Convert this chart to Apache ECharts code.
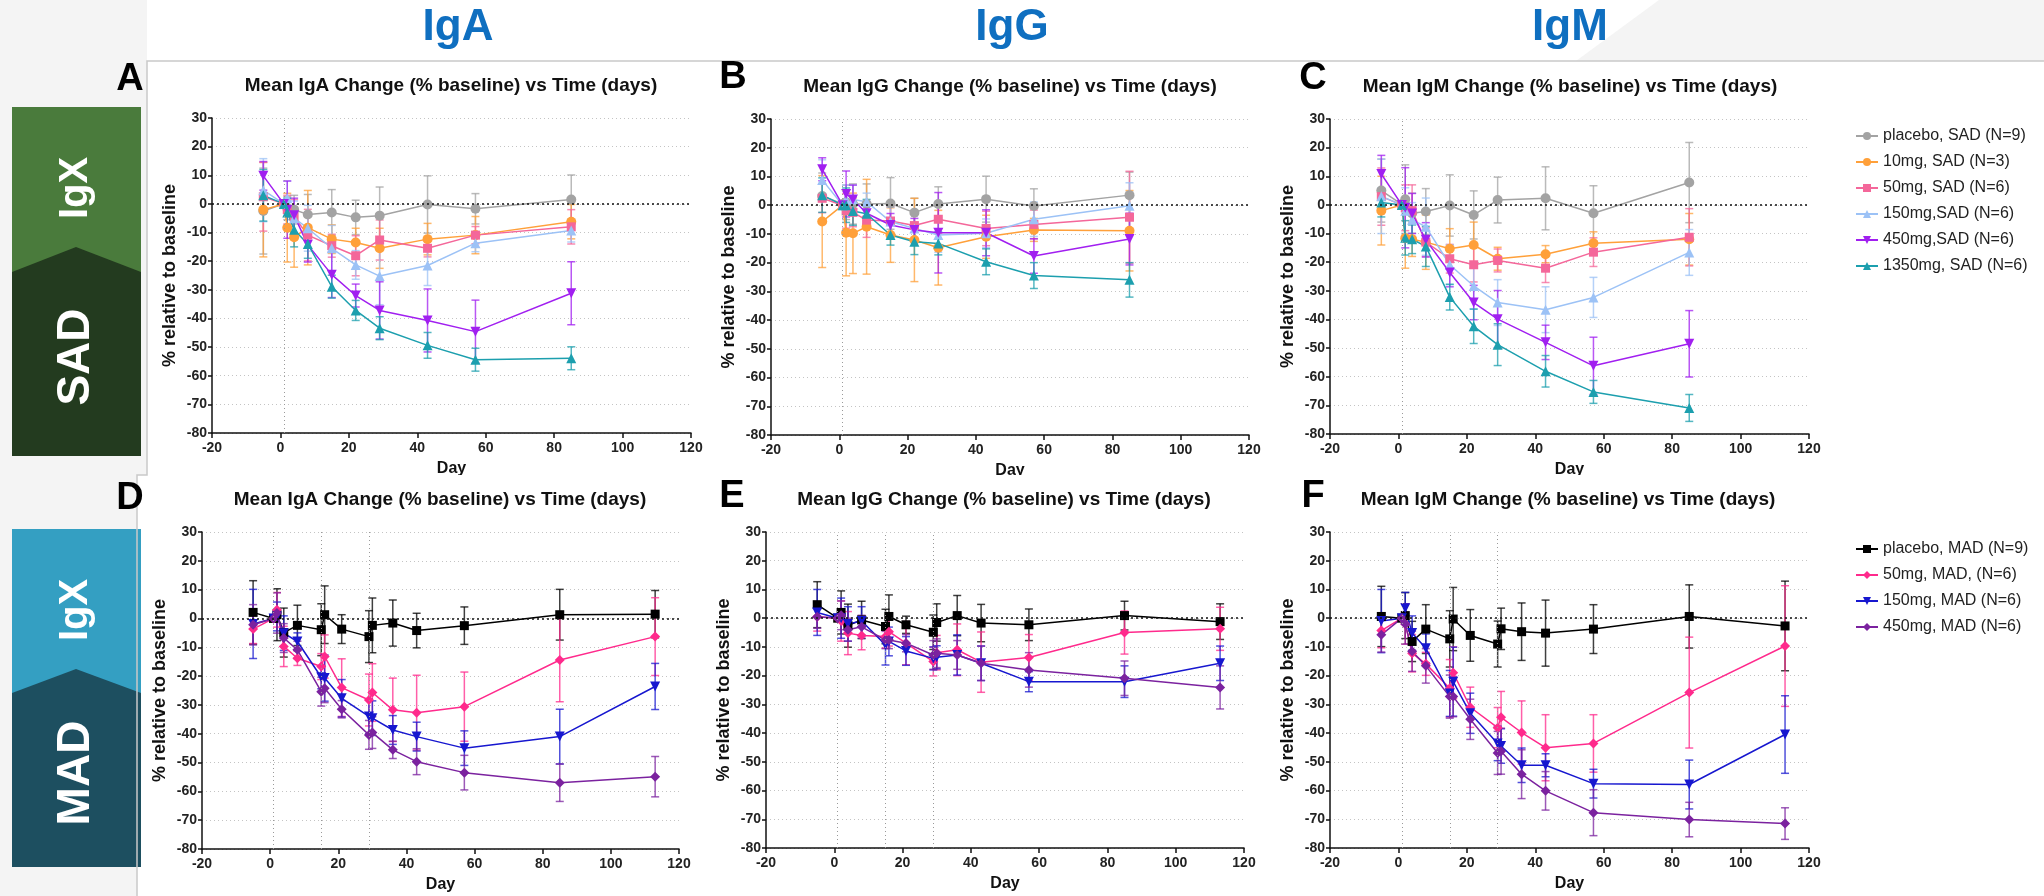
<!DOCTYPE html>
<html>
<head>
<meta charset="utf-8">
<script src="https://cdn.jsdelivr.net/npm/echarts/dist/echarts.min.js"></script>
<style>
  html, body { margin: 0; padding: 0; background: #fff; }
  #chart { width: 2044px; height: 896px; }
</style>
</head>
<body>
<div id="chart"></div>
<script>
// sampling days
const sadDays = [-5, 1, 2, 4, 8, 15, 22, 29, 43, 57, 85];
const madDays = [-5, 1, 2, 4, 8, 15, 16, 21, 29, 30, 36, 43, 57, 85, 113];

const sadGroups = ['placebo, SAD (N=9)', '10mg, SAD (N=3)', '50mg, SAD (N=6)', '150mg,SAD (N=6)', '450mg,SAD (N=6)', '1350mg, SAD (N=6)'];
const madGroups = ['placebo, MAD (N=9)', '50mg, MAD, (N=6)', '150mg, MAD (N=6)', '450mg, MAD (N=6)'];

const yTicks = { min: -80, max: 30, step: 10 };
const xTicks = { min: -20, max: 120, step: 20 };

// A - IgA SAD (mean % change, one row per group)
const igaSadMean = [
  [-2.5, 0, -1.5, -2, -3.7, -3, -4.7, -4.1, -0.2, -1.7, 1.5],
  [-2, 0, -8.3, -11.6, -8.3, -12.3, -13.5, -15.5, -12.3, -10.9, -6.2],
  [2.5, 0, -2, -4.5, -10.9, -14.6, -18.1, -12.6, -15.5, -10.9, -8],
  [4.8, 0, 2, -5, -8.5, -15.5, -21.3, -25.2, -21.5, -13.7, -9.3],
  [9.8, 0, -2, -4, -14.3, -24.7, -32, -37.2, -40.7, -44.6, -31.2],
  [3, 0, -3, -9, -14, -28.9, -37.2, -43.4, -49.4, -54.4, -53.9]
];
const igaSadErr = [
  [15, 0, 4, 5, 7, 8, 6, 10, 10, 5.3, 8.6],
  [16.5, 0, 12, 10.5, 13, 5, 5, 7, 5.5, 6.5, 6],
  [12, 0, 5, 6, 9, 4, 7, 7, 3, 3, 6],
  [11, 0, 6, 6, 8, 8, 5, 10, 7, 3, 4],
  [5, 0, 10, 6, 6, 8, 4, 10, 11, 11, 11],
  [9, 0, 5, 6, 5, 4, 3.5, 4, 4.5, 4, 4]
];

// B - IgG SAD
const iggSadMean = [
  [3.2, 0.4, 1, 0.4, 0.4, 0.6, -2.6, 0.4, 2.1, -0.3, 3.5],
  [-5.7, 0, -9.6, -9.8, -7.5, -10.4, -12.1, -14.8, -11, -8.6, -8.9],
  [2.4, 0, -2, -2.5, -5.2, -5.5, -7.1, -4.9, -8.1, -6.7, -4.2],
  [8.8, 0, 2, 2, 1.2, -5.7, -8.1, -10.4, -9.8, -4.9, -0.2],
  [12.5, 0, 3.9, 2, -2.8, -6.9, -8.6, -9.6, -9.6, -17.7, -11.8],
  [3.5, 0, 0, -2, -3, -10.4, -12.7, -13.3, -19.7, -24.5, -26]
];
const iggSadErr = [
  [8, 0, 6, 7, 7, 9, 5, 6, 8, 6, 8],
  [16, 0, 15, 14, 16.5, 9.5, 14.5, 13, 7.5, 4, 14],
  [5, 0, 6, 5, 6, 5, 5, 5, 6, 5, 16],
  [7, 0, 5, 5, 3, 5, 5, 6, 5, 6, 8],
  [4, 0, 8, 5, 4, 4, 4, 14, 8, 6, 9],
  [6, 0, 6, 5, 5, 3.5, 4.5, 4, 4.5, 4.5, 6]
];

// C - IgM SAD
const igmSadMean = [
  [5, 0.2, 2, -2.9, -2.3, -0.2, -3.5, 1.7, 2.3, -2.9, 7.8],
  [-2, 0, -11.6, -12, -13, -15.3, -14, -18.8, -17.2, -13.4, -12],
  [2.9, 0, -1, -2, -13, -18.8, -20.9, -19.4, -22.1, -16.5, -11.3],
  [3, 0, -2, -5.2, -7.6, -20.9, -28.3, -34.1, -36.6, -32.3, -16.6],
  [10.8, 0, -1, -3, -12.2, -23.6, -34.1, -39.9, -48, -56.2, -48.5],
  [0.8, 0, -11.5, -12, -14.5, -32.2, -42.4, -48.8, -58.1, -65.3, -70.9]
];
const igmSadErr = [
  [11, 0, 12, 7, 8, 10.7, 8.4, 8, 11, 9.6, 14],
  [12, 0, 10.5, 6, 9.5, 7, 8, 4, 3, 4, 9],
  [10, 0, 8, 9, 5, 5, 6, 4, 5, 5, 10],
  [13, 0, 8, 6, 10, 7, 8, 8, 8, 7, 8],
  [6.5, 0, 14, 7, 6, 5, 6, 10, 6, 10, 11.6],
  [5, 0, 6, 5, 7, 4.5, 6, 7.3, 5.5, 4, 4.7]
];

// D - IgA MAD
const igaMadMean = [
  [2.1, 0, 1.3, -4.9, -2.4, -3.9, 1.3, -3.7, -6.3, -2.4, -1.6, -4.2, -2.5, 1.3, 1.5],
  [-3.7, 0, 3, -9.7, -13.8, -16.7, -13.2, -24, -28.3, -25.7, -31.7, -32.7, -30.6, -14.4, -6.3],
  [-1.9, 0, 0.7, -5.1, -8, -20.4, -20.7, -27.7, -34, -34.6, -38.7, -41, -45, -41, -23.6],
  [-2.2, 0, 1.9, -6.8, -10.9, -25.4, -24.2, -31.5, -40.4, -39.6, -45.6, -49.7, -53.5, -57, -54.9]
];
const igaMadErr = [
  [11, 0, 9, 8.5, 7, 9, 10, 5, 9, 9.5, 8, 6, 6.5, 8.8, 8.2],
  [5, 0, 6, 7, 2.5, 4.5, 7.5, 10, 9, 10, 11, 13, 12, 14.5, 13.5],
  [12, 0, 5, 6, 3, 4, 8, 6.5, 6, 6, 5, 5, 6, 9.5, 8],
  [7, 0, 7, 5, 3, 5, 5, 3, 5, 5.5, 3, 4.5, 6, 6.5, 7]
];

// E - IgG MAD
const iggMadMean = [
  [4.7, 0, 2, -2.6, -0.6, -2.9, 0.6, -2.3, -4.9, -1.5, 0.9, -1.7, -2.3, 0.9, -1.2],
  [0.5, 0, -1, -5.2, -6, -6.4, -4.7, -8.7, -15.1, -12, -11, -15.3, -13.7, -5, -3.7],
  [2, 0, 0, -2, -1, -9.3, -8.1, -11.4, -14, -13.6, -12.8, -15.7, -22.1, -22.1, -15.7],
  [0.5, 0, 1, -4, -3, -7.6, -7.6, -8.7, -12.8, -12.2, -12.8, -15.7, -18, -20.9, -24.1]
];
const iggMadErr = [
  [8, 0, 7.5, 7.5, 6.5, 6, 7.5, 3, 6, 6.5, 7, 6.5, 5.5, 5, 6.2],
  [5, 0, 7, 7.5, 5, 4, 5, 7.5, 5, 6, 9, 10.5, 8, 7.5, 7.5],
  [8, 0, 7, 6, 5, 7, 5, 5, 4, 4, 7, 6, 3.5, 5.5, 6],
  [4, 0, 5, 4, 4, 3, 3, 3, 5, 5, 5, 6, 6, 6, 7.5]
];

// F - IgM MAD
const igmMadMean = [
  [0.6, 0, 0.9, -8.1, -3.8, -7.2, -0.3, -6, -9, -3.7, -4.7, -5.2, -3.8, 0.6, -2.7],
  [-4.3, 0, -2, -12.2, -15.9, -24.4, -19, -31, -38.1, -34.5, -39.8, -45.1, -43.6, -25.9, -9.7],
  [-1, 0, 3.5, -5.2, -10.5, -26.2, -22.1, -33.1, -43.6, -44.5, -51.2, -51.2, -57.6, -57.9, -40.5],
  [-5.8, 0, -2, -11.5, -16.6, -27.3, -27.3, -35.2, -46.9, -46.3, -54.3, -60.1, -67.7, -70.1, -71.5]
];
const igmMadErr = [
  [10.5, 0, 8, 7, 8.5, 9.8, 11, 9, 8, 7.2, 10, 11.5, 8.5, 11, 15.6],
  [6, 0, 7, 6.5, 4, 10, 9, 7, 7, 9, 11, 11.5, 10, 19.3, 21],
  [11, 0, 5.5, 6, 5, 8, 12, 7, 6, 6, 6, 4, 5, 8.5, 13.5],
  [6, 0, 7, 7, 6, 7.5, 7, 7, 7.5, 8, 8.5, 6.7, 8, 6, 5.5]
];

const sadDoseDays = [1];
const madDoseDays = [1, 15, 29];

// styles
const sadColors = ['#a3a3a3', '#ffa03a', '#f4679a', '#9cc2f6', '#a11ff0', '#1c9fae'];
const sadSymbols = ['circle', 'circle', 'rect', 'triangle', 'triangle', 'triangle'];
const sadRotate = [0, 0, 0, 0, 180, 0];
const madColors = ['#000000', '#ff2a8c', '#1717cf', '#7b229f'];
const madSymbols = ['rect', 'diamond', 'triangle', 'diamond'];
const madRotate = [0, 0, 180, 0];

const FONT = '"Liberation Sans", Arial, sans-serif';

const panels = [
  { mean: igaSadMean, err: igaSadErr, days: sadDoseDays, x: sadDays, names: sadGroups, colors: sadColors, symbols: sadSymbols, rot: sadRotate,
    grid: { left: 212, top: 118, width: 479, height: 315 } },
  { mean: iggSadMean, err: iggSadErr, days: sadDoseDays, x: sadDays, names: sadGroups, colors: sadColors, symbols: sadSymbols, rot: sadRotate,
    grid: { left: 771, top: 119, width: 478, height: 316 } },
  { mean: igmSadMean, err: igmSadErr, days: sadDoseDays, x: sadDays, names: sadGroups, colors: sadColors, symbols: sadSymbols, rot: sadRotate,
    grid: { left: 1330, top: 119, width: 479, height: 315 } },
  { mean: igaMadMean, err: igaMadErr, days: madDoseDays, x: madDays, names: madGroups, colors: madColors, symbols: madSymbols, rot: madRotate,
    grid: { left: 202, top: 532, width: 477, height: 317 } },
  { mean: iggMadMean, err: iggMadErr, days: madDoseDays, x: madDays, names: madGroups, colors: madColors, symbols: madSymbols, rot: madRotate,
    grid: { left: 766, top: 532, width: 478, height: 316 } },
  { mean: igmMadMean, err: igmMadErr, days: madDoseDays, x: madDays, names: madGroups, colors: madColors, symbols: madSymbols, rot: madRotate,
    grid: { left: 1330, top: 532, width: 479, height: 316 } }
];

function errRender(color) {
  return function (params, api) {
    const x = api.value(0);
    const lo = api.coord([x, api.value(1)]);
    const hi = api.coord([x, api.value(2)]);
    const half = 4;
    const style = { stroke: color, lineWidth: 1.5, opacity: 0.75 };
    return {
      type: 'group',
      children: [
        { type: 'line', shape: { x1: lo[0], y1: lo[1], x2: hi[0], y2: hi[1] }, style: style },
        { type: 'line', shape: { x1: hi[0] - half, y1: hi[1], x2: hi[0] + half, y2: hi[1] }, style: style },
        { type: 'line', shape: { x1: lo[0] - half, y1: lo[1], x2: lo[0] + half, y2: lo[1] }, style: style }
      ]
    };
  };
}

const grids = [], xAxes = [], yAxes = [], series = [];

panels.forEach((p, pi) => {
  grids.push(p.grid);
  xAxes.push({
    gridIndex: pi, type: 'value', min: xTicks.min, max: xTicks.max, interval: xTicks.step,
    name: 'Day', nameLocation: 'middle', nameGap: 28,
    nameTextStyle: { fontFamily: FONT, fontWeight: 'bold', fontSize: 16, color: '#111' },
    axisLine: { onZero: false, lineStyle: { color: '#111', width: 1.5 } },
    axisTick: { length: 5, lineStyle: { color: '#111', width: 1.5 } },
    axisLabel: { fontFamily: FONT, fontWeight: 'bold', fontSize: 14, color: '#222', margin: 8 },
    splitLine: { show: false }
  });
  yAxes.push({
    gridIndex: pi, type: 'value', min: yTicks.min, max: yTicks.max, interval: yTicks.step,
    name: '% relative to baseline', nameLocation: 'middle', nameGap: 33,
    nameTextStyle: { fontFamily: FONT, fontWeight: 'bold', fontSize: 18, color: '#111' },
    axisLine: { show: true, onZero: false, lineStyle: { color: '#111', width: 1.5 } },
    axisTick: { show: true, length: 4, lineStyle: { color: '#111', width: 1.5 } },
    axisLabel: { fontFamily: FONT, fontWeight: 'bold', fontSize: 14, color: '#222', margin: 5 },
    splitLine: { show: true, lineStyle: { color: '#c4c4c4', width: 1, type: [1, 3] } }
  });

  p.mean.forEach((row, gi) => {
    const color = p.colors[gi];
    // error bars
    const errData = [];
    row.forEach((v, i) => {
      const e = p.err[gi][i];
      if (e > 0) errData.push([p.x[i], v - e, v + e]);
    });
    series.push({
      type: 'custom', xAxisIndex: pi, yAxisIndex: pi, silent: true, z: 2,
      renderItem: errRender(color), encode: { x: 0, y: [1, 2] }, data: errData
    });
    const s = {
      type: 'line', name: p.names[gi], xAxisIndex: pi, yAxisIndex: pi, z: 3,
      data: row.map((v, i) => [p.x[i], v]),
      symbol: p.symbols[gi], symbolRotate: p.rot[gi],
      symbolSize: p.symbols[gi] === 'rect' ? 9 : 10,
      itemStyle: { color: color },
      lineStyle: { color: color, width: 1.5 }
    };
    if (gi === 0) {
      s.markLine = {
        silent: true, symbol: 'none', label: { show: false }, animation: false,
        data: [{ yAxis: 0, lineStyle: { color: '#111', width: 1.5, type: [2, 3] } }]
          .concat(p.days.map(d => ({ xAxis: d, lineStyle: { color: '#9a9a9a', width: 1, type: [1, 3] } })))
      };
    }
    series.push(s);
  });
});

// decorative page elements
const graphic = [
  { type: 'rect', z: -10, shape: { x: 0, y: 0, width: 147, height: 475 }, style: { fill: '#f4f4f4' } },
  { type: 'rect', z: -10, shape: { x: 0, y: 475, width: 137, height: 421 }, style: { fill: '#f4f4f4' } },
  { type: 'polygon', z: -10, shape: { points: [[1576, 61], [1659, 0], [2044, 0], [2044, 61]] }, style: { fill: '#f4f4f4' } },
  { type: 'polyline', z: 5, shape: { points: [[2044, 61], [147, 61], [147, 475], [137, 475], [137, 896]] }, style: { stroke: '#c9c9c9', lineWidth: 1.5, fill: null } },
  // band labels
  { type: 'rect', shape: { x: 12, y: 107, width: 129, height: 165 }, style: { fill: '#4a7b3c' } },
  { type: 'polygon', shape: { points: [[12, 272], [76, 247], [141, 272], [141, 456], [12, 456]] }, style: { fill: '#233b1f' } },
  { type: 'rect', shape: { x: 12, y: 529, width: 129, height: 164 }, style: { fill: '#349fc2' } },
  { type: 'polygon', shape: { points: [[12, 693], [76, 669], [141, 693], [141, 867], [12, 867]] }, style: { fill: '#1d4f60' } },
  { type: 'text', x: 76, y: 188, rotation: Math.PI / 2, style: { text: 'IgX', font: 'bold 40px ' + FONT, fill: '#fff', align: 'center', verticalAlign: 'middle' } },
  { type: 'text', x: 76, y: 357, rotation: Math.PI / 2, style: { text: 'SAD', font: 'bold 46px ' + FONT, fill: '#fff', align: 'center', verticalAlign: 'middle' } },
  { type: 'text', x: 76, y: 610, rotation: Math.PI / 2, style: { text: 'IgX', font: 'bold 40px ' + FONT, fill: '#fff', align: 'center', verticalAlign: 'middle' } },
  { type: 'text', x: 76, y: 773, rotation: Math.PI / 2, style: { text: 'MAD', font: 'bold 46px ' + FONT, fill: '#fff', align: 'center', verticalAlign: 'middle' } },
  // column headers
  { type: 'text', x: 458, y: 28, style: { text: 'IgA', font: 'bold 44px ' + FONT, fill: '#0f6fc0', align: 'center', verticalAlign: 'middle' } },
  { type: 'text', x: 1012, y: 28, style: { text: 'IgG', font: 'bold 44px ' + FONT, fill: '#0f6fc0', align: 'center', verticalAlign: 'middle' } },
  { type: 'text', x: 1570, y: 28, style: { text: 'IgM', font: 'bold 44px ' + FONT, fill: '#0f6fc0', align: 'center', verticalAlign: 'middle' } },
  // hide lower part of first-row "Day" labels, as in the source composite
  { type: 'rect', z: 100, shape: { x: 148, y: 475, width: 1700, height: 5 }, style: { fill: '#fff' } }
];

const panelTitles = [
  ['A', 130, 80, 'Mean IgA Change (% baseline) vs Time (days)', 451, 86],
  ['B', 733, 78, 'Mean IgG Change (% baseline) vs Time (days)', 1010, 87],
  ['C', 1313, 79, 'Mean IgM Change (% baseline) vs Time (days)', 1570, 87],
  ['D', 130, 499, 'Mean IgA Change (% baseline) vs Time (days)', 440, 500],
  ['E', 732, 497, 'Mean IgG Change (% baseline) vs Time (days)', 1004, 500],
  ['F', 1313, 497, 'Mean IgM Change (% baseline) vs Time (days)', 1568, 500]
];
panelTitles.forEach(t => {
  graphic.push({ type: 'text', x: t[1], y: t[2], z: 120, style: { text: t[0], font: 'bold 38px ' + FONT, fill: '#000', align: 'center', verticalAlign: 'middle' } });
  graphic.push({ type: 'text', x: t[4], y: t[5], style: { text: t[3], font: 'bold 19px ' + FONT, fill: '#111', align: 'center', verticalAlign: 'middle' } });
});

const legendText = { fontFamily: FONT, fontSize: 16, color: '#222' };

const chart = echarts.init(document.getElementById('chart'));
chart.setOption({
  animation: false,
  backgroundColor: '#ffffff',
  grid: grids,
  xAxis: xAxes,
  yAxis: yAxes,
  legend: [
    { data: sadGroups, orient: 'vertical', left: 1850, top: 123, itemWidth: 22, itemHeight: 10, itemGap: 10, textStyle: legendText, selectedMode: false },
    { data: madGroups, orient: 'vertical', left: 1850, top: 536, itemWidth: 22, itemHeight: 10, itemGap: 10, textStyle: legendText, selectedMode: false }
  ],
  graphic: graphic,
  series: series
});
</script>
</body>
</html>
